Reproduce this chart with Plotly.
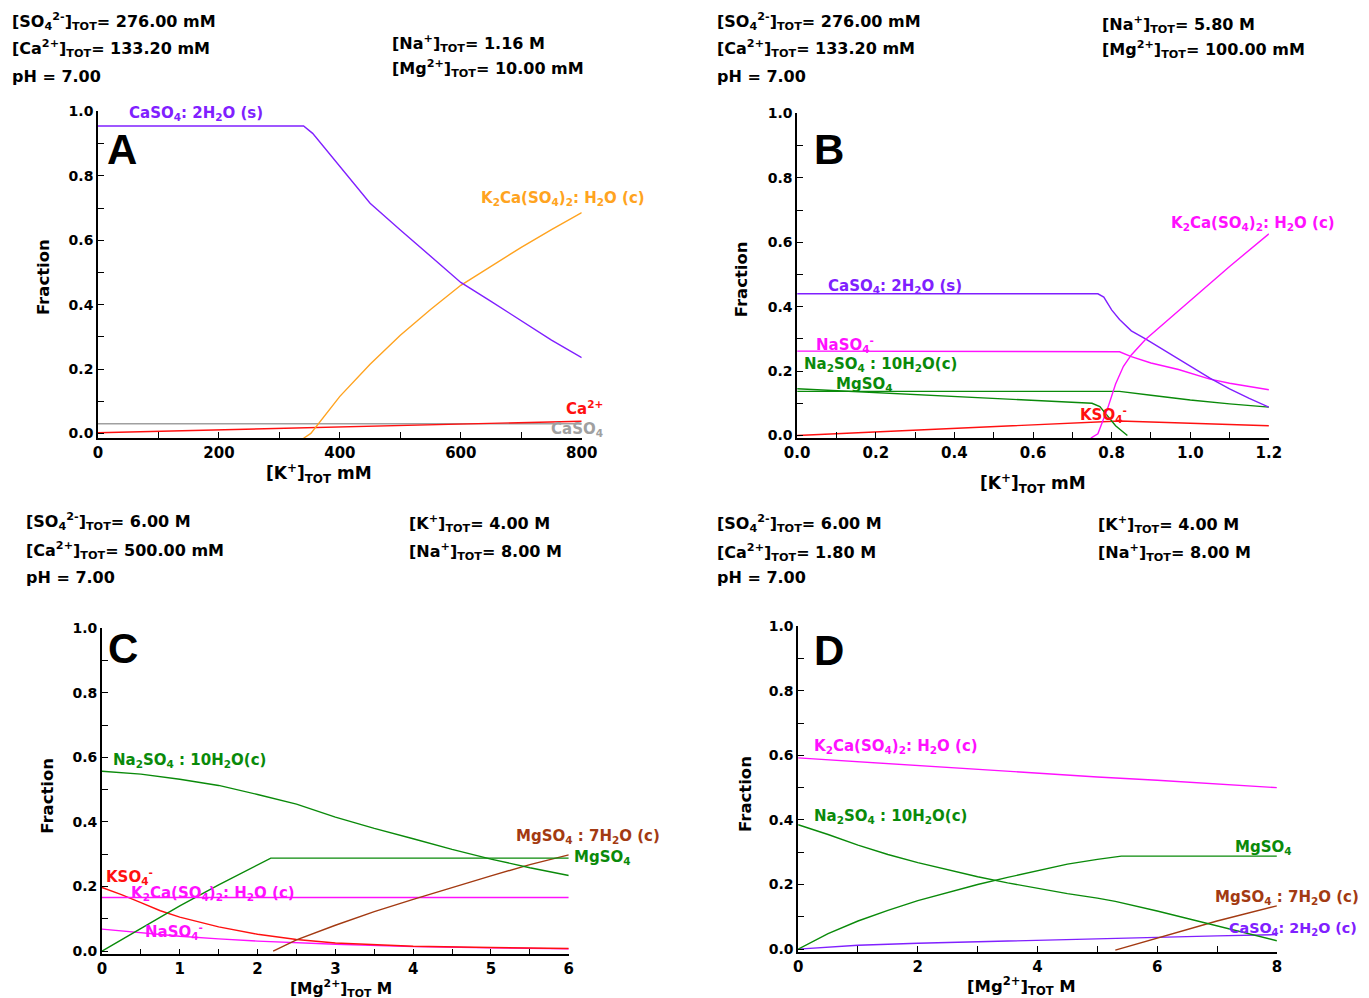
import plotly.graph_objects as go

W, H = 1369, 998

# ---------------- DATA ----------------
# Panel A : x = [K+]TOT (mM)
A_x_gyp = [0, 100, 200, 300, 340, 355, 400, 450, 500, 550, 600, 650, 700, 750, 800]
A_gyp = [0.955, 0.955, 0.955, 0.955, 0.955, 0.932, 0.828, 0.715, 0.632, 0.551, 0.469, 0.41, 0.35, 0.29, 0.235]
A_x_k2ca = [340, 352, 400, 450, 500, 550, 600, 650, 700, 750, 800]
A_k2ca = [-0.015, 0.0, 0.115, 0.215, 0.305, 0.385, 0.46, 0.52, 0.578, 0.633, 0.686]
A_x_ca = [0, 800]
A_ca = [0.002, 0.038]
A_x_caso4 = [0, 800]
A_caso4 = [0.03, 0.03]

# Panel B : x = [K+]TOT
B_x_gyp = [0, 0.765, 0.78, 0.8, 0.82, 0.85, 0.886, 1.0, 1.05, 1.1, 1.15, 1.2]
B_gyp = [0.44, 0.44, 0.43, 0.39, 0.36, 0.325, 0.30, 0.215, 0.178, 0.145, 0.115, 0.088]
B_x_k2ca = [0.747, 0.765, 0.79, 0.81, 0.83, 0.85, 0.886, 1.0, 1.1, 1.2]
B_k2ca = [-0.008, 0.005, 0.085, 0.16, 0.215, 0.25, 0.298, 0.42, 0.525, 0.626]
B_x_naso4 = [0, 0.82, 0.85, 0.9, 0.97, 1.05, 1.1, 1.2]
B_naso4 = [0.262, 0.26, 0.245, 0.225, 0.205, 0.175, 0.162, 0.142]
B_x_mgso4 = [0, 0.82, 0.9, 1.0, 1.1, 1.2]
B_mgso4 = [0.137, 0.137, 0.125, 0.11, 0.098, 0.088]
B_x_na2so4 = [0, 0.75, 0.77, 0.79, 0.81, 0.84]
B_na2so4 = [0.145, 0.1, 0.09, 0.06, 0.03, 0.0]
B_x_kso4 = [0, 0.78, 0.82, 1.0, 1.2]
B_kso4 = [0.0, 0.044, 0.045, 0.038, 0.03]

# Panel C : x = [Mg2+]TOT (M)
C_x_na2so4 = [0, 0.5, 1, 1.5, 2, 2.5, 3, 3.5, 4, 4.5, 5, 5.5, 6]
C_na2so4 = [0.557, 0.548, 0.532, 0.513, 0.485, 0.455, 0.415, 0.38, 0.348, 0.315, 0.285, 0.258, 0.234]
C_x_mgso4 = [0, 0.5, 1, 1.5, 2, 2.17, 6]
C_mgso4 = [0.0, 0.07, 0.14, 0.205, 0.268, 0.288, 0.288]
C_x_epsom = [2.2, 2.5, 3, 3.5, 4, 4.5, 5, 5.5, 6]
C_epsom = [0.0, 0.035, 0.08, 0.122, 0.16, 0.197, 0.233, 0.268, 0.298]
C_x_kso4 = [0, 0.25, 0.5, 0.75, 1, 1.5, 2, 2.5, 3, 3.5, 4, 5, 6]
C_kso4 = [0.197, 0.175, 0.15, 0.125, 0.105, 0.075, 0.052, 0.036, 0.025, 0.019, 0.015, 0.011, 0.008]
C_x_k2ca = [0, 6]
C_k2ca = [0.166, 0.166]
C_x_naso4 = [0, 0.5, 1, 1.5, 2, 3, 4, 5, 6]
C_naso4 = [0.068, 0.056, 0.046, 0.038, 0.031, 0.021, 0.014, 0.01, 0.007]

# Panel D : x = [Mg2+]TOT (M)
D_x_k2ca = [0, 1, 2, 3, 4, 5, 6, 7, 8]
D_k2ca = [0.592, 0.58, 0.568, 0.556, 0.545, 0.533, 0.523, 0.512, 0.5]
D_x_na2so4 = [0, 0.5, 1, 1.5, 2, 2.5, 3, 3.5, 4, 4.5, 5, 5.3, 6, 6.5, 7, 7.5, 8]
D_na2so4 = [0.385, 0.355, 0.322, 0.293, 0.268, 0.245, 0.224, 0.205, 0.188, 0.172, 0.158, 0.148, 0.118, 0.095, 0.073, 0.05, 0.026]
D_x_mgso4 = [0, 0.5, 1, 1.5, 2, 2.5, 3, 3.5, 4, 4.5, 5, 5.4, 8]
D_mgso4 = [0.0, 0.048, 0.087, 0.12, 0.15, 0.175, 0.2, 0.222, 0.243, 0.263, 0.278, 0.288, 0.288]
D_x_epsom = [5.3, 6, 7, 8]
D_epsom = [-0.003, 0.035, 0.087, 0.134]
D_x_gyp = [0, 0.5, 1, 2, 3, 4, 5, 6, 7, 8]
D_gyp = [0.0, 0.007, 0.012, 0.018, 0.023, 0.028, 0.033, 0.037, 0.041, 0.045]

# Header texts
A_head_left = ["[SO<sub>4</sub><sup>2-</sup>]<sub>TOT</sub>= 276.00 mM",
               "[Ca<sup>2+</sup>]<sub>TOT</sub>= 133.20 mM", "pH = 7.00"]
A_head_right = ["[Na<sup>+</sup>]<sub>TOT</sub>= 1.16 M", "[Mg<sup>2+</sup>]<sub>TOT</sub>= 10.00 mM"]
B_head_left = ["[SO<sub>4</sub><sup>2-</sup>]<sub>TOT</sub>= 276.00 mM",
               "[Ca<sup>2+</sup>]<sub>TOT</sub>= 133.20 mM", "pH = 7.00"]
B_head_right = ["[Na<sup>+</sup>]<sub>TOT</sub>= 5.80 M", "[Mg<sup>2+</sup>]<sub>TOT</sub>= 100.00 mM"]
C_head_left = ["[SO<sub>4</sub><sup>2-</sup>]<sub>TOT</sub>= 6.00 M",
               "[Ca<sup>2+</sup>]<sub>TOT</sub>= 500.00 mM", "pH = 7.00"]
C_head_right = ["[K<sup>+</sup>]<sub>TOT</sub>= 4.00 M", "[Na<sup>+</sup>]<sub>TOT</sub>= 8.00 M"]
D_head_left = ["[SO<sub>4</sub><sup>2-</sup>]<sub>TOT</sub>= 6.00 M",
               "[Ca<sup>2+</sup>]<sub>TOT</sub>= 1.80 M", "pH = 7.00"]
D_head_right = ["[K<sup>+</sup>]<sub>TOT</sub>= 4.00 M", "[Na<sup>+</sup>]<sub>TOT</sub>= 8.00 M"]

# ---------------- STYLE ----------------
VIOLET = "#8020FF"
ORANGE = "#FFA320"
RED = "#FF1010"
GRAY = "#A0A0A0"
MAGENTA = "#FF10FF"
GREEN = "#0A8A0A"
BROWN = "#A33A12"
FONT = "DejaVu Sans"

GYP = "CaSO<sub>4</sub>: 2H<sub>2</sub>O (s)"
GYPC = "CaSO<sub>4</sub>: 2H<sub>2</sub>O (c)"
K2CA = "K<sub>2</sub>Ca(SO<sub>4</sub>)<sub>2</sub>: H<sub>2</sub>O (c)"
NA2 = "Na<sub>2</sub>SO<sub>4</sub> : 10H<sub>2</sub>O(c)"
MGSO4 = "MgSO<sub>4</sub>"
EPSOM = "MgSO<sub>4</sub> : 7H<sub>2</sub>O (c)"
NASO4 = "NaSO<sub>4</sub><sup>-</sup>"
KSO4 = "KSO<sub>4</sub><sup>-</sup>"

fig = go.Figure()


def line(x, y, color, ax, name):
    fig.add_trace(go.Scatter(x=x, y=y, mode="lines", name=name,
                             line=dict(color=color, width=1.4),
                             xaxis="x" + ax, yaxis="y" + ax,
                             showlegend=False, hoverinfo="skip"))


line(A_x_caso4, A_caso4, GRAY, "", "CaSO4")
line(A_x_ca, A_ca, RED, "", "Ca2+")
line(A_x_k2ca, A_k2ca, ORANGE, "", "K2Ca")
line(A_x_gyp, A_gyp, VIOLET, "", "gypsum")

line(B_x_kso4, B_kso4, RED, "2", "KSO4-")
line(B_x_na2so4, B_na2so4, GREEN, "2", "Na2SO4")
line(B_x_mgso4, B_mgso4, GREEN, "2", "MgSO4")
line(B_x_naso4, B_naso4, MAGENTA, "2", "NaSO4-")
line(B_x_gyp, B_gyp, VIOLET, "2", "gypsum")
line(B_x_k2ca, B_k2ca, MAGENTA, "2", "K2Ca")

line(C_x_naso4, C_naso4, MAGENTA, "3", "NaSO4-")
line(C_x_kso4, C_kso4, RED, "3", "KSO4-")
line(C_x_k2ca, C_k2ca, MAGENTA, "3", "K2Ca")
line(C_x_epsom, C_epsom, BROWN, "3", "epsomite")
line(C_x_mgso4, C_mgso4, GREEN, "3", "MgSO4")
line(C_x_na2so4, C_na2so4, GREEN, "3", "Na2SO4")

line(D_x_gyp, D_gyp, VIOLET, "4", "gypsum")
line(D_x_epsom, D_epsom, BROWN, "4", "epsomite")
line(D_x_mgso4, D_mgso4, GREEN, "4", "MgSO4")
line(D_x_na2so4, D_na2so4, GREEN, "4", "Na2SO4")
line(D_x_k2ca, D_k2ca, MAGENTA, "4", "K2Ca")

# layout positions measured on the reference picture, corrected for rendering offset
OX, SX, OY, SY = 18.8, 0.9814, 19.4, 0.978


def px(x):
    return ((x - OX) / SX) / W


def py(y):
    return 1 - ((y - OY) / SY) / H


def axes(xl, xr, ytop, ybot, xrange, yrange, xdtick, xminor, xfmt):
    xf = dict(family=FONT, size=15, color="black", weight="bold")
    yf = dict(family=FONT, size=14, color="black", weight="bold")
    xa = dict(domain=[px(xl), px(xr)], range=xrange, showline=True, linecolor="black",
              linewidth=1.6, ticks="inside", ticklen=6, tickwidth=1.4, tickcolor="black",
              dtick=xdtick, tick0=0, tickformat=xfmt, tickfont=xf, showgrid=False,
              zeroline=False, fixedrange=True,
              minor=dict(ticks="inside", ticklen=6, tickwidth=1.4, tickcolor="black",
                         dtick=xminor, showgrid=False))
    ya = dict(domain=[py(ybot), py(ytop)], range=yrange, showline=True, linecolor="black",
              linewidth=1.6, ticks="inside", ticklen=6, tickwidth=1.4, tickcolor="black",
              dtick=0.2, tick0=0, tickformat=".1f", tickfont=yf, showgrid=False,
              zeroline=False, fixedrange=True,
              minor=dict(ticks="inside", ticklen=6, tickwidth=1.4, tickcolor="black",
                         dtick=0.1, showgrid=False))
    return xa, ya


xa1, ya1 = axes(96, 581, 114, 437.8, [0, 800], [-0.015, 1.0], 200, 100, "d")
xa2, ya2 = axes(797, 1270, 116, 437.6, [0, 1.2], [-0.008, 1.0], 0.2, 0.1, ".1f")
xa3, ya3 = axes(100, 568, 626, 949.2, [0, 6], [-0.01, 1.0], 1, 0.5, "d")
xa4, ya4 = axes(798, 1278, 624, 946.6, [0, 8], [-0.008, 1.0], 2, 1, "d")
xa1["anchor"] = "y"; ya1["anchor"] = "x"
xa2["anchor"] = "y2"; ya2["anchor"] = "x2"
xa3["anchor"] = "y3"; ya3["anchor"] = "x3"
xa4["anchor"] = "y4"; ya4["anchor"] = "x4"

ann = []


def text(t, x, y, color="black", size=16, anchor="left", angle=0, family=FONT):
    ann.append(dict(text=t, x=px(x), y=py(y), xref="paper", yref="paper",
                    xanchor=anchor, yanchor="middle", showarrow=False, textangle=angle,
                    font=dict(family=family, size=size, color=color, weight="bold")))


# headers
for texts, xl, ys in [(A_head_left, 8, [25, 52, 79]), (A_head_right, 389, [47, 71]),
                      (B_head_left, 715, [25, 52, 79]), (B_head_right, 1101, [28, 53]),
                      (C_head_left, 22, [520, 549, 576]), (C_head_right, 406, [522, 550]),
                      (D_head_left, 715, [522, 551, 576]), (D_head_right, 1097, [523, 551])]:
    for t, y in zip(texts, ys):
        text(t, xl, y, size=16)

# panel letters
for letter, x, y in [("A", 103, 152), ("B", 812, 152), ("C", 104, 646), ("D", 812, 648)]:
    text(letter, x, y, size=42, family="Liberation Sans")

# axis titles
for x, y in [(42, 278), (742, 280), (46, 792), (745, 790)]:
    text("Fraction", x, y, size=16.5, anchor="center", angle=-90)
text("[K<sup>+</sup>]<sub>TOT</sub> mM", 318, 473, size=17, anchor="center")
text("[K<sup>+</sup>]<sub>TOT</sub> mM", 1033, 483, size=17, anchor="center")
text("[Mg<sup>2+</sup>]<sub>TOT</sub> M", 340, 983, size=15.5, anchor="center")
text("[Mg<sup>2+</sup>]<sub>TOT</sub> M", 1022, 981, size=16.5, anchor="center")

# species labels
S = 15
text(GYP, 125, 116, VIOLET, S)
text(K2CA, 478, 200, ORANGE, S)
text("Ca<sup>2+</sup>", 563, 408, RED, S)
text("CaSO<sub>4</sub>", 548, 429, GRAY, S)

text(GYP, 826, 287, VIOLET, S)
text(K2CA, 1170, 225, MAGENTA, S)
text(NASO4, 814, 345, MAGENTA, S)
text(NA2, 802, 365, GREEN, S)
text(MGSO4, 834, 385, GREEN, S)
text(KSO4, 1079, 414, RED, S)

text(NA2, 109, 757, GREEN, S)
text(EPSOM, 513, 832, BROWN, S)
text(MGSO4, 571, 853, GREEN, S)
text(KSO4, 102, 872, RED, S)
text(K2CA, 127, 889, MAGENTA, S)
text(NASO4, 141, 927, MAGENTA, S)

text(K2CA, 812, 743, MAGENTA, S)
text(NA2, 812, 813, GREEN, S)
text(MGSO4, 1234, 843, GREEN, S)
text(EPSOM, 1214, 893, BROWN, S)
text(GYPC, 1228, 924, VIOLET, 14.3)

fig.update_layout(width=W, height=H, margin=dict(l=0, r=0, t=0, b=0),
                  paper_bgcolor="white", plot_bgcolor="white",
                  font=dict(family=FONT, color="black"),
                  xaxis=xa1, yaxis=ya1, xaxis2=xa2, yaxis2=ya2,
                  xaxis3=xa3, yaxis3=ya3, xaxis4=xa4, yaxis4=ya4,
                  annotations=ann, showlegend=False)

fig.write_html("out.html")
